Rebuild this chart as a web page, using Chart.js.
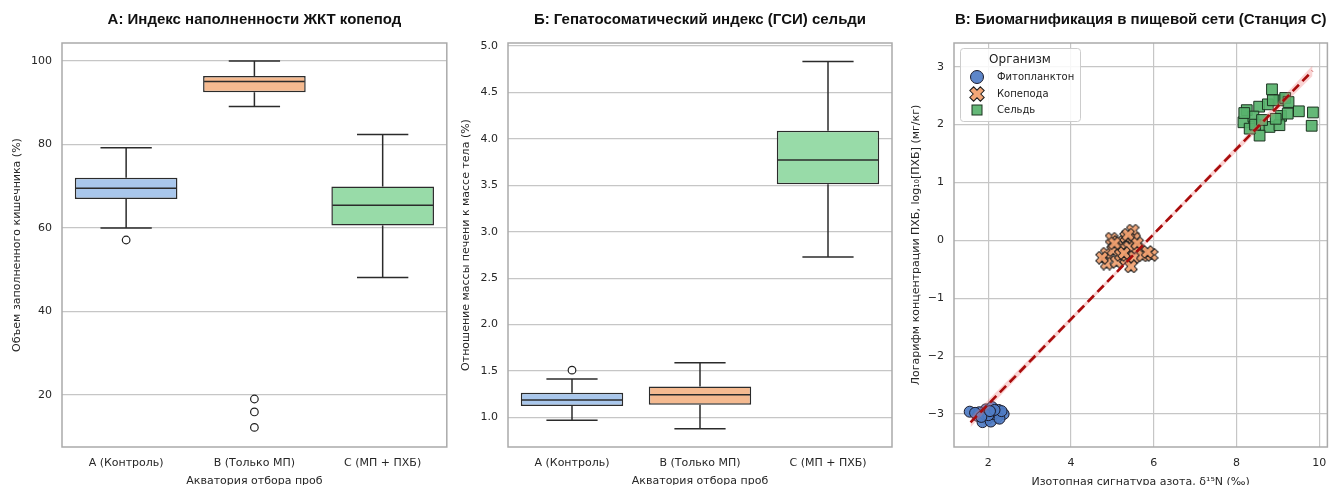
<!DOCTYPE html>
<html lang="ru">
<head>
<meta charset="utf-8">
<title>Микропластик и ПХБ: три панели</title>
<script src="https://cdn.jsdelivr.net/npm/chart.js@4.4.1/dist/chart.umd.min.js"></script>
<style>
  body { margin: 0; background: #fff; }
  canvas { position: absolute; top: 0; }
</style>
</head>
<body>
<canvas id="gut" width="452" height="485" style="left:0"></canvas>
<canvas id="hsi" width="446" height="485" style="left:452px"></canvas>
<canvas id="web" width="438" height="485" style="left:898px"></canvas>
<script>
const stations = ['A (Контроль)', 'B (Только МП)', 'C (МП + ПХБ)'];
const boxColors = ['#a9c7ec', '#f5ba90', '#98dba8'];

// panel A: gut fullness of copepods, %
const gutQ1 = [66.9, 92.5, 60.6];
const gutMedian = [69.5, 95.1, 65.4];
const gutQ3 = [72.0, 96.4, 69.9];
const gutLow = [60.0, 89.1, 48.1];
const gutHigh = [79.2, 100.0, 82.4];
const gutOutliers = [[57.1], [19.0, 15.9, 12.2], []];
const gutTicks = [20, 40, 60, 80, 100];

// panel B: herring HSI, %
const hsiQ1 = [1.123, 1.137, 3.51];
const hsiMedian = [1.19, 1.245, 3.77];
const hsiQ3 = [1.267, 1.335, 4.086];
const hsiLow = [0.97, 0.88, 2.727];
const hsiHigh = [1.415, 1.59, 4.83];
const hsiOutliers = [[1.51], [], []];
const hsiTicks = [1.0, 1.5, 2.0, 2.5, 3.0, 3.5, 4.0, 4.5, 5.0];

// panel C: d15N vs log10 PCB
const phytoN   = [1.55, 1.74, 1.94, 2.09, 2.25, 2.37, 2.21, 1.98, 1.86, 2.06, 1.78, 2.13, 2.27, 1.90, 2.00, 1.68, 2.32, 2.15, 1.83, 2.04];
const phytoLog = [-2.96, -3.03, -2.92, -2.88, -2.93, -3.00, -3.06, -3.09, -3.14, -3.13, -2.97, -3.00, -3.08, -3.00, -3.02, -2.98, -2.95, -2.93, -3.05, -2.95];
const copeN    = [5.49, 4.98, 5.13, 5.33, 5.53, 4.86, 5.02, 5.21, 5.41, 5.61, 4.86, 5.10, 5.33, 5.53, 5.73, 4.75, 5.95, 5.85, 5.45, 5.20, 5.60, 5.38, 5.05, 5.28];
const copeLog  = [0.17, 0.03, -0.03, 0.06, 0.03, -0.23, -0.17, -0.14, -0.12, -0.14, -0.40, -0.37, -0.32, -0.29, -0.26, -0.30, -0.25, -0.20, -0.45, -0.25, -0.05, 0.10, -0.05, -0.22];
const herringN   = [8.86, 8.25, 8.55, 8.76, 9.04, 9.18, 9.26, 8.88, 9.51, 9.85, 9.82, 8.17, 8.41, 9.08, 9.24, 8.56, 8.80, 9.04, 8.56, 8.32, 8.45, 8.62, 8.95, 8.19];
const herringLog = [2.61, 2.25, 2.31, 2.35, 2.42, 2.46, 2.39, 2.42, 2.23, 2.21, 1.98, 2.04, 2.14, 2.15, 2.19, 1.99, 1.96, 1.99, 1.81, 1.93, 2.00, 2.08, 2.10, 2.20];
const fitN = [1.57, 9.84];
const fitLog = [-3.145, 2.93];
const bandN = [1.57, 3.0, 4.5, 5.7, 7.0, 8.5, 9.84];
const bandHigh = [-3.06, -2.04, -0.955, -0.08, 0.882, 2.006, 3.02];
const bandLow = [-3.23, -2.148, -1.029, -0.142, 0.806, 1.886, 2.84];
const webXTicks = [2, 4, 6, 8, 10];
const webYTicks = [-3, -2, -1, 0, 1, 2, 3];

const FONT = '"DejaVu Sans", Verdana, sans-serif';
const HEAD_FONT = '"Liberation Sans", Arial, sans-serif';
const INK = '#262626';
const tickFont = { family: FONT, size: 11 };
const titleFont = { family: FONT, size: 11 };

// grey frame around the plot + panel title centred on the plot area
const framePlugin = {
  id: 'frame',
  beforeDatasetsDraw(chart) {
    const a = chart.chartArea, ctx = chart.ctx;
    ctx.save();
    ctx.strokeStyle = '#aaaaaa';
    ctx.lineWidth = 1.5;
    ctx.strokeRect(a.left, a.top, a.right - a.left, a.bottom - a.top);
    ctx.restore();
  },
  afterDraw(chart, args, opts) {
    const a = chart.chartArea, ctx = chart.ctx;
    ctx.save();
    ctx.font = 'bold 15px ' + HEAD_FONT;
    ctx.fillStyle = '#111';
    ctx.textAlign = 'center';
    ctx.textBaseline = 'middle';
    ctx.fillText(opts.text, (a.left + a.right) / 2, 20);
    ctx.restore();
  }
};

// whiskers, caps and medians on top of the floating bars
const whiskerPlugin = {
  id: 'whiskers',
  afterDatasetsDraw(chart, args, opts) {
    const ctx = chart.ctx, y = chart.scales.y;
    const bars = chart.getDatasetMeta(0).data;
    const seg = (x1, y1, x2, y2) => { ctx.beginPath(); ctx.moveTo(x1, y1); ctx.lineTo(x2, y2); ctx.stroke(); };
    ctx.save();
    ctx.strokeStyle = '#2b2b2b';
    ctx.lineWidth = 1.5;
    bars.forEach((bar, i) => {
      const cx = bar.x, half = bar.width / 2, cap = bar.width / 4;
      const pHigh = y.getPixelForValue(opts.high[i]);
      const pLow = y.getPixelForValue(opts.low[i]);
      seg(cx, y.getPixelForValue(opts.q3[i]), cx, pHigh);
      seg(cx, y.getPixelForValue(opts.q1[i]), cx, pLow);
      seg(cx - cap, pHigh, cx + cap, pHigh);
      seg(cx - cap, pLow, cx + cap, pLow);
      const pMed = y.getPixelForValue(opts.median[i]);
      seg(cx - half + 1, pMed, cx + half - 1, pMed);
    });
    ctx.restore();
  }
};

function boxChart(id, title, yTitle, q1, med, q3, low, high, outliers, ticks, yMin, yMax, fmt, padL, axisW, padR) {
  const outlierPts = [];
  outliers.forEach((list, i) => list.forEach(v => outlierPts.push({ x: stations[i], y: v })));
  return new Chart(document.getElementById(id), {
    type: 'bar',
    data: {
      labels: stations,
      datasets: [{
        data: stations.map((s, i) => [q1[i], q3[i]]),
        backgroundColor: boxColors,
        borderColor: '#2b2b2b',
        borderWidth: 1.5,
        borderSkipped: false,
        barPercentage: 0.8,
        categoryPercentage: 1.0
      }, {
        type: 'line',
        data: outlierPts,
        showLine: false,
        pointRadius: 3.8,
        pointBackgroundColor: '#ffffff',
        pointBorderColor: '#222',
        pointBorderWidth: 1.2
      }]
    },
    options: {
      responsive: false,
      animation: false,
      layout: { padding: { left: padL, right: padR, top: 43, bottom: 0 } },
      plugins: {
        legend: { display: false },
        tooltip: { enabled: false },
        frame: { text: title },
        whiskers: { q1: q1, median: med, q3: q3, low: low, high: high }
      },
      scales: {
        x: {
          grid: { display: false, drawTicks: false },
          border: { display: false },
          ticks: { padding: 10, font: tickFont, color: INK },
          title: { display: true, text: 'Акватория отбора проб', padding: { top: 0, bottom: -3 }, font: titleFont, color: INK },
          afterFit: s => { s.height = 38; }
        },
        y: {
          min: yMin, max: yMax,
          grid: { color: '#c6c6c6', lineWidth: 1.2, drawTicks: false },
          border: { display: false },
          ticks: { padding: 10, font: tickFont, color: INK, callback: fmt },
          afterBuildTicks: s => { s.ticks = ticks.map(v => ({ value: v })); },
          title: { display: true, text: yTitle, padding: 0, font: titleFont, color: INK },
          afterFit: s => { s.width = axisW; }
        }
      }
    },
    plugins: [framePlugin, whiskerPlugin]
  });
}

boxChart('gut', 'А: Индекс наполненности ЖКТ копепод', 'Объем заполненного кишечника (%)',
  gutQ1, gutMedian, gutQ3, gutLow, gutHigh, gutOutliers, gutTicks, 7.5, 104.3, v => String(v), 11, 51, 5);

boxChart('hsi', 'Б: Гепатосоматический индекс (ГСИ) сельди', 'Отношение массы печени к массе тела (%)',
  hsiQ1, hsiMedian, hsiQ3, hsiLow, hsiHigh, hsiOutliers, hsiTicks, 0.683, 5.03, v => v.toFixed(1), 8, 48, 6);

// filled "X" marker for copepods
function makeX(size, fill, stroke) {
  const c = document.createElement('canvas');
  c.width = c.height = size;
  const g = c.getContext('2d');
  const h = size / 2 - 0.5, t = h * 0.36;
  const pts = [[-t, -h], [t, -h], [t, -t], [h, -t], [h, t], [t, t], [t, h], [-t, h], [-t, t], [-h, t], [-h, -t], [-t, -t]];
  g.translate(size / 2, size / 2);
  g.rotate(Math.PI / 4);
  g.beginPath();
  pts.forEach(([px, py], i) => i ? g.lineTo(px, py) : g.moveTo(px, py));
  g.closePath();
  g.fillStyle = fill;
  g.fill();
  g.strokeStyle = stroke;
  g.lineWidth = 1;
  g.stroke();
  return c;
}
const xMarker = makeX(14, 'rgba(241,161,112,0.92)', '#1e1e1e');
const xMarkerBig = makeX(16, 'rgba(241,161,112,0.95)', '#1e1e1e');

const species = [
  { label: 'Фитопланктон', n: phytoN, v: phytoLog, style: 'circle', radius: 5.5, fill: 'rgba(79,124,196,0.92)', edge: '#1a1a2a' },
  { label: 'Копепода', n: copeN, v: copeLog, style: xMarker, radius: 6, fill: 'rgba(241,161,112,0.92)', edge: '#1e1e1e' },
  { label: 'Сельдь', n: herringN, v: herringLog, style: 'rect', radius: 7.6, fill: 'rgba(88,178,108,0.92)', edge: '#1c3320' }
];

const legendPlugin = {
  id: 'orgLegend',
  afterDraw(chart) {
    const ctx = chart.ctx;
    const x0 = 62, y0 = 48, w = 120, h = 73;
    ctx.save();
    ctx.fillStyle = 'rgba(255,255,255,0.85)';
    ctx.strokeStyle = '#cccccc';
    ctx.lineWidth = 1;
    ctx.beginPath();
    ctx.roundRect(x0 + 0.5, y0 + 0.5, w, h, 3);
    ctx.fill();
    ctx.stroke();
    ctx.fillStyle = '#222';
    ctx.textBaseline = 'middle';
    ctx.textAlign = 'center';
    ctx.font = '12px ' + FONT;
    ctx.fillText('Организм', x0 + w / 2, 60);
    ctx.textAlign = 'left';
    ctx.font = '10px ' + FONT;
    const rows = [77, 94, 110];
    species.forEach((s, i) => {
      const mx = 79, my = rows[i];
      ctx.fillStyle = s.fill;
      ctx.strokeStyle = s.edge;
      ctx.lineWidth = 1;
      if (s.style === 'circle') {
        ctx.beginPath(); ctx.arc(mx, my, 6.5, 0, Math.PI * 2); ctx.fill(); ctx.stroke();
      } else if (s.style === 'rect') {
        ctx.fillRect(mx - 5, my - 5, 10, 10); ctx.strokeRect(mx - 5, my - 5, 10, 10);
      } else {
        ctx.drawImage(xMarkerBig, mx - 8, my - 8);
      }
      ctx.fillStyle = '#222';
      ctx.fillText(s.label, 99, my);
    });
    ctx.restore();
  }
};

const minusFmt = v => v < 0 ? '\u2212' + Math.abs(v) : String(v);

new Chart(document.getElementById('web'), {
  type: 'scatter',
  data: {
    datasets: [{
      type: 'line',
      data: fitN.map((n, i) => ({ x: n, y: fitLog[i] })),
      borderColor: '#a80c0c',
      borderWidth: 2.6,
      borderDash: [9, 5],
      pointRadius: 0,
      fill: false,
      order: 0
    }, {
      type: 'line',
      data: bandN.map((n, i) => ({ x: n, y: bandHigh[i] })),
      borderWidth: 0,
      pointRadius: 0,
      backgroundColor: 'rgba(240,110,110,0.3)',
      fill: '+1',
      order: 1
    }, {
      type: 'line',
      data: bandN.map((n, i) => ({ x: n, y: bandLow[i] })),
      borderWidth: 0,
      pointRadius: 0,
      fill: false,
      order: 2
    }].concat(species.map((s, k) => ({
      label: s.label,
      data: s.n.map((n, i) => ({ x: n, y: s.v[i] })),
      pointStyle: s.style,
      pointRadius: s.radius,
      pointBackgroundColor: s.fill,
      pointBorderColor: s.edge,
      pointBorderWidth: 1,
      order: 3 + k
    })))
  },
  options: {
    responsive: false,
    animation: false,
    layout: { padding: { left: 12, right: 0, top: 43, bottom: 0 } },
    plugins: {
      legend: { display: false },
      tooltip: { enabled: false },
      frame: { text: 'В: Биомагнификация в пищевой сети (Станция С)' }
    },
    scales: {
      x: {
        type: 'linear',
        min: 1.17, max: 10.2,
        grid: { color: '#c6c6c6', lineWidth: 1.2, drawTicks: false },
        border: { display: false },
        ticks: { padding: 10, font: tickFont, color: INK, callback: minusFmt },
        afterBuildTicks: s => { s.ticks = webXTicks.map(v => ({ value: v })); },
        title: { display: true, text: 'Изотопная сигнатура азота, δ¹⁵N (‰)', padding: { top: 0, bottom: -4 }, font: titleFont, color: INK },
        afterFit: s => { s.height = 38; s.paddingLeft = 0; s.paddingRight = 0; }
      },
      y: {
        min: -3.57, max: 3.41,
        grid: { color: '#c6c6c6', lineWidth: 1.2, drawTicks: false },
        border: { display: false },
        ticks: { padding: 10, font: tickFont, color: INK, callback: minusFmt },
        afterBuildTicks: s => { s.ticks = webYTicks.map(v => ({ value: v })); },
        title: { display: true, text: 'Логарифм концентрации ПХБ, log₁₀[ПХБ] (мг/кг)', padding: 0, font: titleFont, color: INK },
        afterFit: s => { s.width = 44; }
      }
    }
  },
  plugins: [framePlugin, legendPlugin]
});
</script>
</body>
</html>
